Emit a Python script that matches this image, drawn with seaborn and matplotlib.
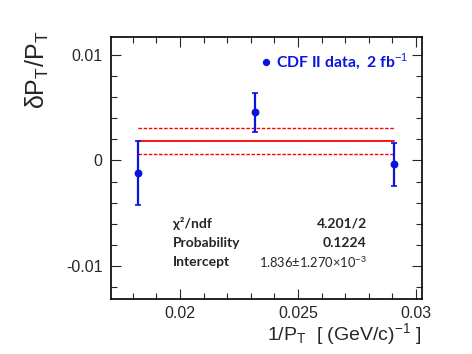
import numpy as np
import pandas as pd
import matplotlib
matplotlib.use("Agg")
import matplotlib.pyplot as plt
from matplotlib.ticker import MultipleLocator
import seaborn as sns

# data
inv_pt = [0.01823, 0.02318, 0.02908]
dpt_over_pt = [-0.00119, 0.00455, -0.00038]
dpt_err = [0.00306, 0.00187, 0.00208]
fit_intercept = 0.001836
fit_error = 0.001270
x_ticks = [0.02, 0.025, 0.03]
x_ticklabels = ["0.02", "0.025", "0.03"]
y_ticks = [-0.01, 0.0, 0.01]
y_ticklabels = ["-0.01", "0", "0.01"]
fit_names = ["χ²/ndf", "Probability", "Intercept"]
fit_values = ["4.201/2", "0.1224", "1.836±1.270×10$^{-3}$"]

sns.set_style("ticks")
plt.rcParams['font.family'] = ['Liberation Sans', 'DejaVu Sans']
plt.rcParams['mathtext.fontset'] = 'custom'
plt.rcParams['mathtext.rm'] = 'Liberation Sans'
plt.rcParams['mathtext.it'] = 'Liberation Sans'

blue = "#0a14dc"
fig = plt.figure(figsize=(4.72, 3.54), dpi=100)
ax = fig.add_axes([111/472, 1-299/354, (421.7-111)/472, (299-36.7)/354])

df = pd.DataFrame({"x": inv_pt, "y": dpt_over_pt, "e": dpt_err})
ax.errorbar(df["x"], df["y"], yerr=df["e"], fmt="none", ecolor=blue,
            elinewidth=1.6, capsize=2.5, capthick=1.2, zorder=3)
sns.scatterplot(data=df, x="x", y="y", ax=ax, color=blue, s=32,
                edgecolor=blue, linewidth=0, zorder=4, legend=False)

x0, x1 = min(inv_pt), max(inv_pt)
ax.plot([x0, x1], [fit_intercept, fit_intercept], color="red", lw=1.3, zorder=2)
for s in (+1, -1):
    ax.plot([x0, x1], [fit_intercept + s*fit_error]*2, color="red", lw=1.0,
            ls=(0, (2.5, 1.2)), zorder=2)

ax.set_xlim(0.01708, 0.03024)
ax.set_ylim(-0.01313, 0.01173)
ax.set_xticks(x_ticks)
ax.set_xticklabels(x_ticklabels)
ax.set_yticks(y_ticks)
ax.set_yticklabels(y_ticklabels)
ax.xaxis.set_minor_locator(MultipleLocator(0.001))
ax.yaxis.set_minor_locator(MultipleLocator(0.002))
ax.tick_params(which="both", direction="in", top=True, right=True,
               labelsize=11.5, width=0.8)
ax.tick_params(axis="x", pad=5)
ax.tick_params(axis="y", pad=6)
ax.tick_params(which="major", length=7)
ax.tick_params(which="minor", length=4)
for sp in ax.spines.values():
    sp.set_linewidth(1.2)
    sp.set_color("black")
ax.set_xlabel("")
ax.set_ylabel("")

fig.text(421.7/472, 1-334/354, "1/P$_\\mathrm{T}$  [ (GeV/c)$^{-1}$ ]",
         ha="right", va="center", fontsize=14)
fig.text(37/472, 1-70/354, "δP$_\\mathrm{T}$/P$_\\mathrm{T}$", rotation=90,
         ha="center", va="center", fontsize=18)

# legend-like annotation
ax.scatter([0.01708 + (265.7-111)/310.7*(0.03024-0.01708)],
           [0.01173 - (62.3-36.7)/262.3*(0.01173+0.01313)],
           color=blue, s=18, zorder=5)
fig.text(276/472, 1-62/354, "CDF II data,  2 fb$^{-1}$", color=blue,
         fontsize=11.3, fontweight="bold", family=["Lato", "DejaVu Sans"],
         ha="left", va="center")

ys = [223, 243, 262]
weights = ["bold", "bold", "normal"]
sizes = [10, 10, 9.3]
for name, val, yy, w, fs in zip(fit_names, fit_values, ys, weights, sizes):
    fig.text(173/472, 1-yy/354, name, fontsize=10, fontweight="bold",
             family=["Lato", "DejaVu Sans"], ha="left", va="center")
    fig.text(366.7/472, 1-yy/354, val, fontsize=fs, fontweight=w,
             family=["Lato", "DejaVu Sans"], ha="right", va="center")

fig.savefig("out.png", dpi=100)
